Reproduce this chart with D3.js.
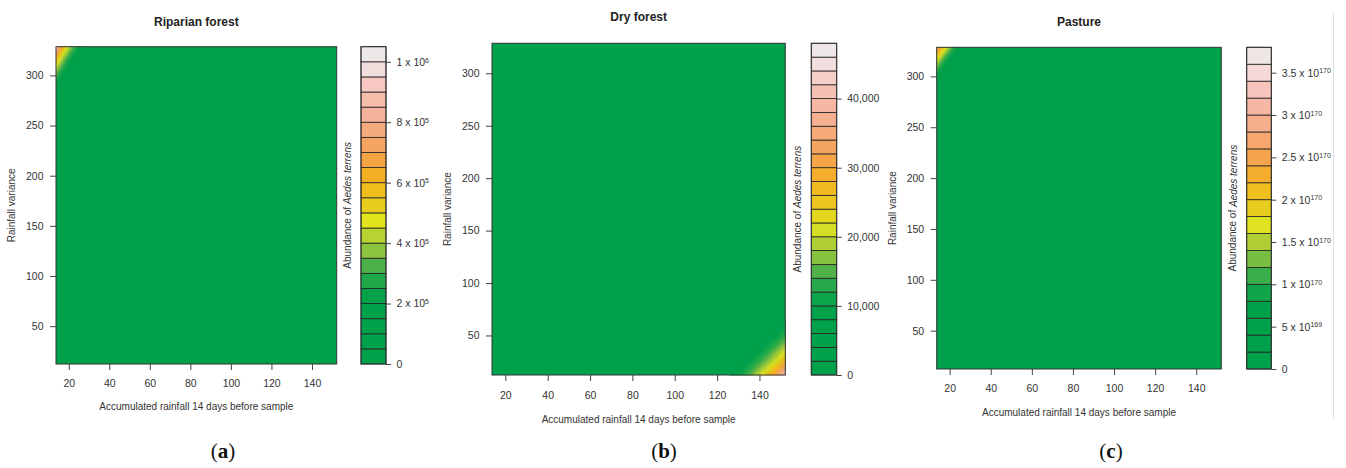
<!DOCTYPE html>
<html>
<head>
<meta charset="utf-8">
<script src="https://cdn.jsdelivr.net/npm/d3@7"></script>
<style>
    body { margin: 0; background: #fff; }
    text { font-family: "Liberation Sans", Arial, sans-serif; fill: #222; }
</style>
</head>
<body>
<svg id="chart" width="1346" height="468"></svg>
<script>
// ---- data ----
const panelTitles = ['Riparian forest', 'Dry forest', 'Pasture'];
const panelLetters = ['a', 'b', 'c'];
const xTitle = 'Accumulated rainfall 14 days before sample';
const yTitle = 'Rainfall variance';

const xDomain = [13.7, 152.2];
const yDomain = [12.3, 328.6];
const xTicks = [20, 40, 60, 80, 100, 120, 140];
const yTicks = [50, 100, 150, 200, 250, 300];

// predicted log10 abundance at the plot corners [top-left, top-right, bottom-left, bottom-right]
const riparianCorners = [5.97, -1.25, 0.89, -6.33];
const dryCorners = [-3.11, 0.49, 1.03, 4.63];
const pastureCorners = [170.48, 162.87, 164.15, 156.54];

// colour key: upper limit and number of bands
const legendMax = [1.05e6, 48000, 3.8e170];
const legendBands = [21, 24, 19];

const riparianTicks = [0, 2e5, 4e5, 6e5, 8e5, 1e6];
const riparianLabels = [['0', ''], ['2 x 10', '5'], ['4 x 10', '5'], ['6 x 10', '5'], ['8 x 10', '5'], ['1 x 10', '6']];
const dryTicks = [0, 10000, 20000, 30000, 40000];
const dryLabels = [['0', ''], ['10,000', ''], ['20,000', ''], ['30,000', ''], ['40,000', '']];
const pastureTicks = [0, 5e169, 1e170, 1.5e170, 2e170, 2.5e170, 3e170, 3.5e170];
const pastureLabels = [['0', ''], ['5 x 10', '169'], ['1 x 10', '170'], ['1.5 x 10', '170'], ['2 x 10', '170'],
    ['2.5 x 10', '170'], ['3 x 10', '170'], ['3.5 x 10', '170']];

// ---- styling ----
const rampStops = [0, 0.21, 0.262, 0.31, 0.357, 0.405, 0.452, 0.5, 0.548, 0.595, 0.643, 0.69, 0.738, 0.786, 0.833, 0.881, 0.929, 1];
const rampColors = ['#00a14b', '#00a14b', '#1ea84a', '#4cb048', '#8cc43f', '#b8d232', '#e2e41e', '#e8cc1e', '#efbf1e',
    '#f4b025', '#f5a444', '#f5a462', '#f5ab7c', '#f5b29a', '#f6bcaa', '#f7c8c2', '#f3dcdc', '#ececec'];

const layout = [
    {left: 56, right: 336.7, top: 46.7, bottom: 364, legL: 361, legR: 386, titleY: 26, xTickPad: 9.5, xLabDy: 43.5, subX: 223},
    {left: 492, right: 785.3, top: 43.3, bottom: 375, legL: 811.3, legR: 836.7, titleY: 21, xTickPad: 10.5, xLabDy: 45.5, subX: 664},
    {left: 936.7, right: 1221.3, top: 47.3, bottom: 369, legL: 1246.7, legR: 1271.3, titleY: 26, xTickPad: 9.5, xLabDy: 44.3, subX: 1111}
];
const surfaces = [riparianCorners, dryCorners, pastureCorners];
const tickSets = [riparianTicks, dryTicks, pastureTicks];
const labelSets = [riparianLabels, dryLabels, pastureLabels];

const svg = d3.select('#chart');
const color = d3.scaleLinear().domain(rampStops).range(rampColors).clamp(true);
const sansFont = '"Liberation Sans", Arial, sans-serif';

function drawPanel(i) {
    const cfg = layout[i];
    const max = legendMax[i];
    const [tl, tr, bl, br] = surfaces[i];
    const g = svg.append('g');

    const x = d3.scaleLinear().domain(xDomain).range([cfg.left, cfg.right]);
    const y = d3.scaleLinear().domain(yDomain).range([cfg.bottom, cfg.top]);
    const legY = d3.scaleLinear().domain([0, max]).range([cfg.bottom, cfg.top]);

    // log-linear surface between the corner values
    const logAt = (xv, yv) => {
        const u = (xv - xDomain[0]) / (xDomain[1] - xDomain[0]);
        const v = (yv - yDomain[0]) / (yDomain[1] - yDomain[0]);
        return bl * (1 - u) * (1 - v) + br * u * (1 - v) + tl * (1 - u) * v + tr * u * v;
    };

    g.append('rect')
        .attr('x', x(xDomain[0])).attr('y', y(yDomain[1]))
        .attr('width', x(xDomain[1]) - x(xDomain[0]))
        .attr('height', y(yDomain[0]) - y(yDomain[1]))
        .attr('fill', color(0));

    const cells = [];
    const lmax = Math.log10(max);
    for (let xv = xDomain[0]; xv < xDomain[1]; xv += 0.5) {
        for (let yv = yDomain[0]; yv < yDomain[1]; yv += 1) {
            const x1 = Math.min(xv + 0.5, xDomain[1]);
            const y1 = Math.min(yv + 1, yDomain[1]);
            const t = Math.pow(10, logAt((xv + x1) / 2, (yv + y1) / 2) - lmax);
            if (t > 0.18) cells.push({x0: xv, x1: x1, y0: yv, y1: y1, t: t});
        }
    }
    g.selectAll('rect.cell')
        .data(cells)
        .join('rect')
        .attr('class', 'cell')
        .attr('x', d => x(d.x0))
        .attr('y', d => y(d.y1))
        .attr('width', d => x(d.x1) - x(d.x0) + 0.4)
        .attr('height', d => y(d.y0) - y(d.y1) + 0.4)
        .attr('fill', d => color(d.t));

    // frame
    g.append('rect')
        .attr('x', cfg.left).attr('y', cfg.top)
        .attr('width', cfg.right - cfg.left).attr('height', cfg.bottom - cfg.top)
        .attr('fill', 'none').attr('stroke', '#333').attr('stroke-width', 1);

    // axes
    const xAxisG = g.append('g')
        .attr('transform', `translate(0,${cfg.bottom})`)
        .call(d3.axisBottom(x).tickValues(xTicks).tickSize(6).tickPadding(cfg.xTickPad).tickSizeOuter(0));
    const yAxisG = g.append('g')
        .attr('transform', `translate(${cfg.left},0)`)
        .call(d3.axisLeft(y).tickValues(yTicks).tickSize(6).tickPadding(6.5).tickSizeOuter(0));
    [xAxisG, yAxisG].forEach(a => {
        a.select('.domain').remove();
        a.selectAll('line').attr('stroke', '#444');
        a.selectAll('text').attr('font-size', 10.5).style('font-family', sansFont).style('fill', '#333');
    });

    // titles
    g.append('text')
        .attr('x', (cfg.left + cfg.right) / 2).attr('y', cfg.titleY)
        .attr('text-anchor', 'middle')
        .attr('font-size', 12).attr('font-weight', 'bold')
        .text(panelTitles[i]);
    g.append('text')
        .attr('x', (cfg.left + cfg.right) / 2).attr('y', cfg.bottom + cfg.xLabDy)
        .attr('text-anchor', 'middle').attr('dominant-baseline', 'middle')
        .attr('font-size', 10).style('fill', '#333')
        .text(xTitle);
    g.append('text')
        .attr('transform', `translate(${cfg.left - 43.5},${(cfg.top + cfg.bottom) / 2}) rotate(-90)`)
        .attr('text-anchor', 'middle').attr('dominant-baseline', 'middle')
        .attr('font-size', 10).style('fill', '#333')
        .text(yTitle);

    // colour key
    const n = legendBands[i];
    const step = max / n;
    const bands = d3.range(n).map(k => ({lo: k * step, hi: (k + 1) * step, t: (k + 0.5) / n}));
    g.selectAll('rect.band')
        .data(bands)
        .join('rect')
        .attr('class', 'band')
        .attr('x', cfg.legL)
        .attr('y', d => legY(d.hi))
        .attr('width', cfg.legR - cfg.legL)
        .attr('height', d => legY(d.lo) - legY(d.hi))
        .attr('fill', d => color(d.t))
        .attr('stroke', '#222').attr('stroke-width', 0.8);
    g.append('rect')
        .attr('x', cfg.legL).attr('y', cfg.top)
        .attr('width', cfg.legR - cfg.legL).attr('height', cfg.bottom - cfg.top)
        .attr('fill', 'none').attr('stroke', '#333').attr('stroke-width', 1);

    const labels = labelSets[i];
    const legAxisG = g.append('g')
        .attr('transform', `translate(${cfg.legR},0)`)
        .call(d3.axisRight(legY).tickValues(tickSets[i]).tickSize(5).tickPadding(5.5).tickSizeOuter(0).tickFormat(() => ''));
    legAxisG.select('.domain').remove();
    legAxisG.selectAll('line').attr('stroke', '#444');
    legAxisG.selectAll('.tick text').each(function (d, k) {
        const t = d3.select(this)
            .attr('font-size', 10.5).style('font-family', sansFont).style('fill', '#333')
            .text(labels[k][0]);
        if (labels[k][1]) {
            t.append('tspan').attr('dy', '-0.45em').attr('font-size', 7).text(labels[k][1]);
        }
    });

    const legLabel = g.append('text')
        .attr('transform', `translate(${cfg.legL - 13},${(cfg.top + cfg.bottom) / 2}) rotate(-90)`)
        .attr('text-anchor', 'middle').attr('dominant-baseline', 'middle')
        .attr('font-size', 10).style('fill', '#333')
        .text('Abundance of ');
    legLabel.append('tspan').attr('font-style', 'italic').text('Aedes terrens');

    // sub-figure letter
    const sub = g.append('text')
        .attr('x', cfg.subX).attr('y', 458)
        .attr('text-anchor', 'middle')
        .style('font-family', '"Liberation Serif", "DejaVu Serif", serif')
        .attr('font-size', 21).style('fill', '#111')
        .text('(');
    sub.append('tspan').attr('font-weight', 'bold').text(panelLetters[i]);
    sub.append('tspan').text(')');
}

[0, 1, 2].forEach(drawPanel);

// thin page edge at the right
svg.append('line')
    .attr('x1', 1333.5).attr('x2', 1333.5).attr('y1', 13).attr('y2', 418)
    .attr('stroke', '#ddd').attr('stroke-width', 1);
</script>
</body>
</html>
